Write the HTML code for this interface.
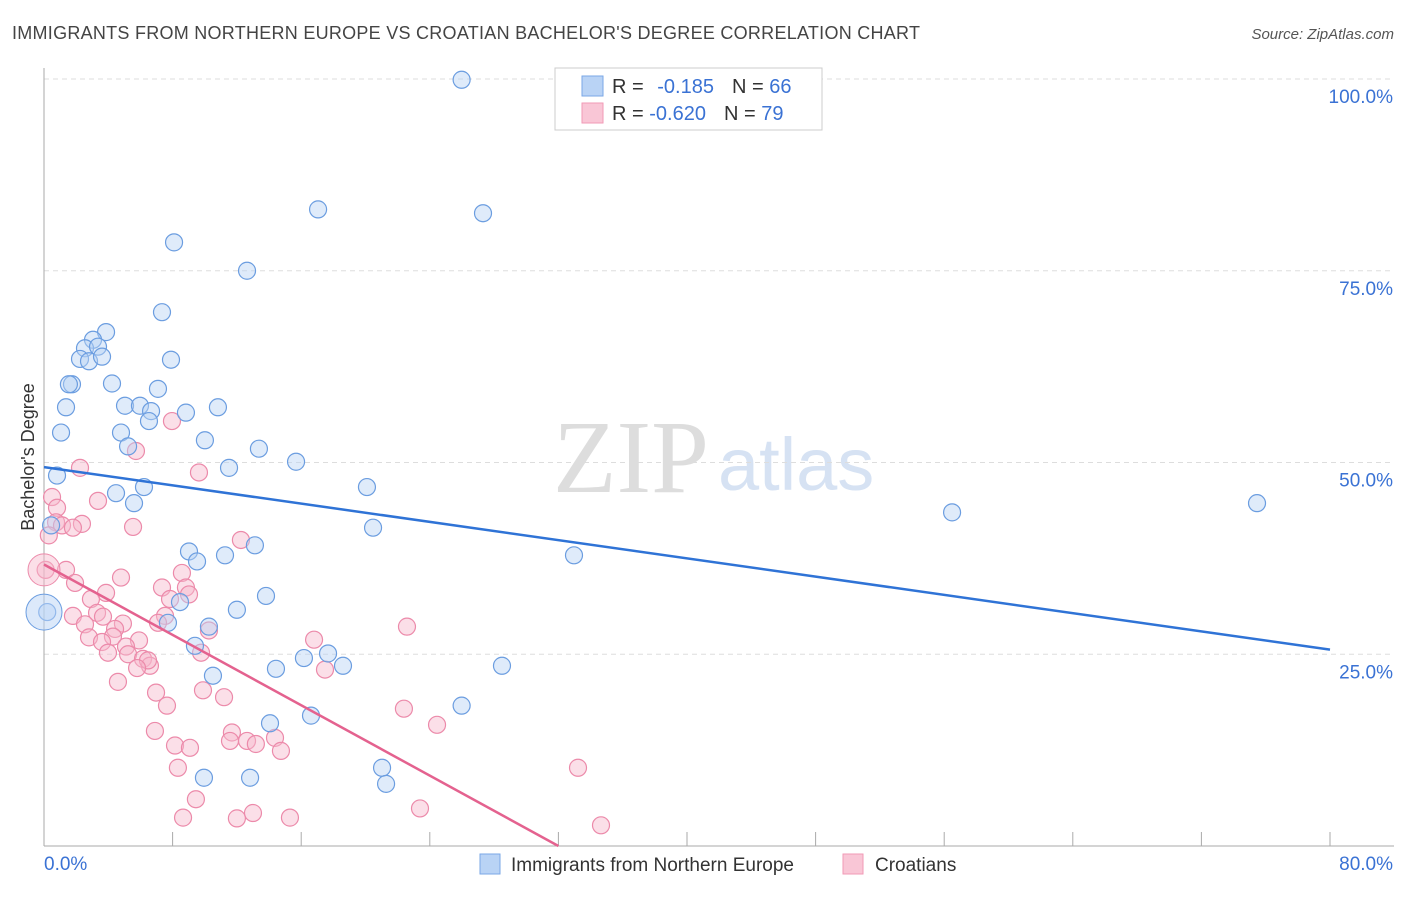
<!DOCTYPE html>
<html><head><meta charset="utf-8"><style>
body{margin:0;background:#fff;font-family:"Liberation Sans",sans-serif;}
</style></head><body>
<svg id="chart" width="1406" height="892" viewBox="0 0 1406 892" xmlns="http://www.w3.org/2000/svg" font-family="Liberation Sans, sans-serif">
<text x="12" y="39" font-size="18" fill="#444" textLength="908">IMMIGRANTS FROM NORTHERN EUROPE VS CROATIAN BACHELOR'S DEGREE CORRELATION CHART</text>
<text x="1394" y="39" font-size="15" fill="#555" font-style="italic" text-anchor="end">Source: ZipAtlas.com</text>
<text x="553" y="492" font-size="104" fill="#ddd" font-family="Liberation Serif, serif">ZIP</text>
<text x="718" y="490" font-size="74" fill="#d6e2f3">atlas</text>
<g id="grid"></g>
<g id="axes"></g>
<g id="pts"></g>
<g id="lines"></g>
<text transform="translate(34,457) rotate(-90)" font-size="18" fill="#333" text-anchor="middle">Bachelor's Degree</text>
<g>
<rect x="555" y="68" width="267" height="62" fill="#fff" stroke="#ccc"/>
<rect x="582" y="76" width="21" height="20" fill="#b9d3f5" stroke="#7aa7e6"/>
<rect x="582" y="103" width="21" height="20" fill="#f9c6d6" stroke="#f19ab6"/>
<text x="612" y="93" font-size="20" fill="#333">R = <tspan fill="#3a72d4" dx="8">-0.185</tspan><tspan dx="18" fill="#333">N = </tspan><tspan fill="#3a72d4">66</tspan></text>
<text x="612" y="120" font-size="20" fill="#333">R = <tspan fill="#3a72d4">-0.620</tspan><tspan dx="18" fill="#333">N = </tspan><tspan fill="#3a72d4">79</tspan></text>
</g>
<g>
<rect x="480" y="854" width="20" height="20" fill="#b9d3f5" stroke="#7aa7e6"/>
<text x="511" y="871" font-size="19" fill="#333">Immigrants from Northern Europe</text>
<rect x="843" y="854" width="20" height="20" fill="#f9c6d6" stroke="#f19ab6"/>
<text x="875" y="871" font-size="19" fill="#333">Croatians</text>
</g>
</svg>
<script>
const xTicks=[0,8,16,24,32,40,48,56,64,72,80];
const yTicks=[25,50,75,100];
const yTickLabels=["25.0%","50.0%","75.0%","100.0%"];
const xLabels=["0.0%","80.0%"];
const blueX=[25.98,17.05,27.31,8.09,12.63,7.34,3.86,3.05,2.55,3.36,2.24,2.8,3.61,7.9,1.74,1.55,4.23,7.09,1.37,5.04,5.97,6.66,8.83,10.82,6.53,1.06,4.79,10.01,5.23,13.37,11.51,15.68,0.81,20.09,4.48,6.22,5.6,56.49,75.46,20.47,0.44,13.12,9.02,9.52,11.26,32.97,13.81,8.46,12.0,7.71,10.26,0.2,9.39,17.67,16.17,18.6,14.43,28.49,10.51,25.98,14.06,16.61,21.03,9.95,12.82,21.28];
const blueY=[99.9,83.0,82.5,78.7,75.0,69.6,67.0,66.0,64.9,65.1,63.5,63.2,63.8,63.4,60.2,60.2,60.3,59.6,57.2,57.4,57.4,56.7,56.5,57.2,55.4,53.9,53.9,52.9,52.1,51.8,49.3,50.1,48.3,46.8,46.0,46.8,44.7,43.5,44.7,41.5,41.8,39.2,38.4,37.1,37.9,37.9,32.6,31.8,30.8,29.1,28.6,30.5,26.1,25.1,24.5,23.5,23.1,23.5,22.2,18.3,16.0,17.0,10.2,8.9,8.9,8.1];
const pinkX=[7.96,5.72,2.24,9.64,0.5,3.36,0.81,0.75,2.36,1.12,1.8,5.54,12.25,1.37,4.79,8.58,1.93,3.86,7.34,8.83,2.92,7.84,9.02,1.8,3.3,3.67,7.53,4.91,2.55,7.09,4.42,2.8,4.29,5.91,3.61,10.26,22.58,5.1,16.8,5.23,9.77,3.98,6.16,6.59,6.47,5.79,17.48,4.6,6.97,9.89,11.2,7.65,22.39,24.45,6.9,11.69,12.63,14.37,11.57,13.18,8.15,9.08,14.74,8.33,33.22,9.45,23.39,13.0,8.65,12.0,15.3,34.65,0.1,0.3];
const pinkY=[55.4,51.5,49.3,48.7,45.5,45.0,44.1,42.2,42.0,41.8,41.5,41.6,39.9,36.0,35.0,35.6,34.3,33.0,33.7,33.7,32.2,32.2,32.8,30.0,30.4,29.9,30.0,29.0,28.9,29.1,28.3,27.2,27.3,26.8,26.6,28.1,28.6,26.0,26.9,25.0,25.2,25.2,24.4,23.5,24.2,23.2,23.0,21.4,20.0,20.3,19.4,18.3,17.9,15.8,15.0,14.8,13.7,14.1,13.7,13.3,13.1,12.8,12.4,10.2,10.2,6.1,4.9,4.3,3.7,3.6,3.7,2.7,36.0,40.5];
const blueBig=[[0,30.5]];
const pinkBig=[[0,36.0]];
const blueLine=[[0,49.4],[80,25.6]];
const pinkLine=[[0,36.7],[32,0]];
const X0=44,X1=1330,Y0=846,Y100=79;
const sx=v=>X0+(X1-X0)*v/80;
const sy=v=>Y0-(Y0-Y100)*v/100;
const NS="http://www.w3.org/2000/svg";
function mk(t,a,p){const e=document.createElementNS(NS,t);for(const k in a)e.setAttribute(k,a[k]);document.getElementById(p).appendChild(e);return e;}
yTicks.forEach((t,i)=>{
 const g=mk('line',{x1:X0,x2:1394,y1:sy(t),y2:sy(t),stroke:'#ddd','stroke-dasharray':'5,4'},'grid');
 
 
 const tx=mk('text',{x:1393,y:sy(t)+24,'font-size':19,fill:'#3a72d4','text-anchor':'end'},'axes');
 tx.textContent=yTickLabels[i];
 
 
});
const ax=mk('line',{x1:X0,x2:X0,y1:68,y2:846,stroke:'#aaa'},'axes');


const bx=mk('line',{x1:X0,x2:1394,y1:846,y2:846,stroke:'#aaa'},'axes');


xTicks.forEach(v=>{
 const t=mk('line',{x1:sx(v),x2:sx(v),y1:832,y2:846,stroke:'#aaa'},'axes');
 
 
});
const l0=mk('text',{x:44,y:870,'font-size':19,fill:'#3a72d4'},'axes');l0.textContent=xLabels[0];


const l1=mk('text',{x:1393,y:870,'font-size':19,fill:'#3a72d4','text-anchor':'end'},'axes');l1.textContent=xLabels[1];


function dots(xs,ys,fill,stroke,name,r){xs.forEach((x,i)=>{const c=mk('circle',{cx:sx(x),cy:sy(ys[i]),r:r,fill:fill,'fill-opacity':0.45,stroke:stroke,'stroke-width':1.2},'pts');
 
 });}
dots(pinkX,pinkY,'#f7b8cb','#ec8aaa','croatians-point',8.5);
dots(blueX,blueY,'#b9d3f5','#6b9de0','northern-europe-point',8.5);
pinkBig.forEach(p=>{const c=mk('circle',{cx:sx(p[0]),cy:sy(p[1]),r:16,fill:'#f7b8cb','fill-opacity':0.45,stroke:'#ec8aaa'},'pts');
 
 });
blueBig.forEach(p=>{const c=mk('circle',{cx:sx(p[0]),cy:sy(p[1]),r:18,fill:'#b9d3f5','fill-opacity':0.5,stroke:'#6b9de0'},'pts');
 
 });
const bl=mk('line',{x1:sx(blueLine[0][0]),y1:sy(blueLine[0][1]),x2:sx(blueLine[1][0]),y2:sy(blueLine[1][1]),stroke:'#2f73d6','stroke-width':2.5},'lines');


const pl=mk('line',{x1:sx(pinkLine[0][0]),y1:sy(pinkLine[0][1]),x2:sx(pinkLine[1][0]),y2:sy(pinkLine[1][1]),stroke:'#e4628f','stroke-width':2.5},'lines');


</script>
</body></html>
